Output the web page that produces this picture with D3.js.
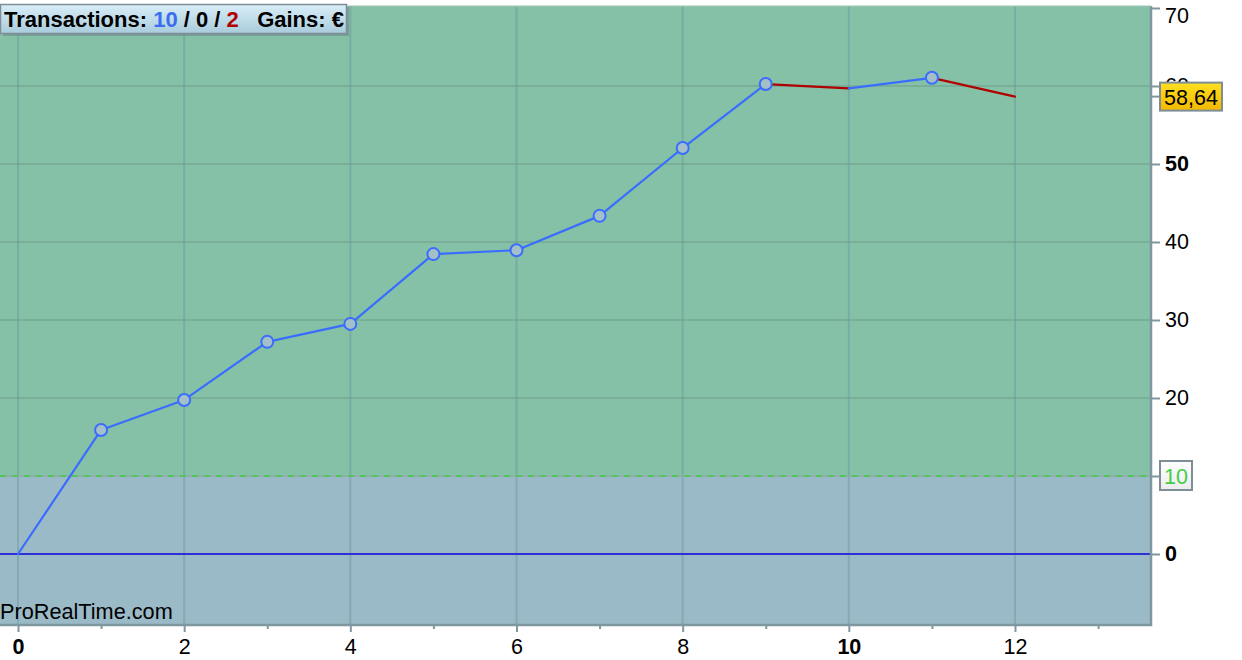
<!DOCTYPE html>
<html>
<head>
<meta charset="utf-8">
<script src="https://cdn.jsdelivr.net/npm/d3@7"></script>
<style>
  html, body { margin: 0; padding: 0; background: #ffffff; }
  svg { display: block; font-family: "Liberation Sans", Arial, Helvetica, sans-serif; }
</style>
</head>
<body>
<svg id="chart" width="1242" height="660"></svg>
<script>
// ---- data ----
const trades = [0, 1, 2, 3, 4, 5, 6, 7, 8, 9, 10, 11, 12];
const equity = [0, 15.9, 19.75, 27.2, 29.5, 38.45, 38.95, 43.35, 52.05, 60.25, 59.7, 61.05, 58.64];
const winning = [null, true, true, true, true, true, true, true, true, true, false, true, false];
const yTicks = [0, 10, 20, 30, 40, 50, 60, 70];
const yBold = [0, 50];
const xTicks = [0, 2, 4, 6, 8, 10, 12];
const xBold = [0, 10];
const xMinor = [1, 3, 5, 7, 9, 11, 13];
const threshold = 10;
const lastValueLabel = "58,64";
const legendParts = [
  {t: "Transactions: ", c: "#000000"},
  {t: "10", c: "#3a6df0"},
  {t: " / 0 / ", c: "#000000"},
  {t: "2", c: "#b00000"},
  {t: "   Gains: €", c: "#000000"}
];

// ---- layout ----
const svg = d3.select("#chart");
const plot = {left: 0, right: 1151, top: 6, bottom: 625};
const x = d3.scaleLinear().domain([0, 12]).range([18, 1015]);
const y = d3.scaleLinear().domain([0, 70]).range([554, 8]);
const FS = 21.5;

// background regions
svg.append("rect")
  .attr("x", plot.left).attr("y", plot.top)
  .attr("width", plot.right - plot.left).attr("height", y(threshold) - plot.top)
  .attr("fill", "#85c1a6");
svg.append("rect")
  .attr("x", plot.left).attr("y", y(threshold))
  .attr("width", plot.right - plot.left).attr("height", plot.bottom - y(threshold))
  .attr("fill", "#9bbac7");

// grid
const grid = svg.append("g");
grid.selectAll("line.h").data(yTicks.filter(v => v !== 0 && v !== threshold && v < 70)).join("line")
  .attr("x1", plot.left).attr("x2", plot.right)
  .attr("y1", d => y(d)).attr("y2", d => y(d))
  .attr("stroke", "#6e9e8a").attr("stroke-opacity", 0.5).attr("stroke-width", 2);
grid.selectAll("line.v").data(xTicks).join("line")
  .attr("x1", d => x(d)).attr("x2", d => x(d))
  .attr("y1", plot.top).attr("y2", plot.bottom)
  .attr("stroke", "#6e9aa0").attr("stroke-opacity", 0.5).attr("stroke-width", 2);

// threshold dashed line
svg.append("line")
  .attr("x1", plot.left).attr("x2", plot.right)
  .attr("y1", y(threshold)).attr("y2", y(threshold))
  .attr("stroke", "#8fa8a8").attr("stroke-width", 1.5);
svg.append("line")
  .attr("x1", plot.left).attr("x2", plot.right)
  .attr("y1", y(threshold)).attr("y2", y(threshold))
  .attr("stroke", "#44cc44").attr("stroke-width", 1.5)
  .attr("stroke-dasharray", "6,6");

// zero line
svg.append("line")
  .attr("x1", plot.left).attr("x2", plot.right)
  .attr("y1", y(0)).attr("y2", y(0))
  .attr("stroke", "#2f2fd8").attr("stroke-width", 2);

// plot border (right + bottom)
svg.append("path")
  .attr("d", `M${plot.right},${plot.top} V${plot.bottom} H${plot.left}`)
  .attr("fill", "none").attr("stroke", "#7f979f").attr("stroke-width", 2.5);
svg.append("line")
  .attr("x1", plot.left).attr("x2", plot.right)
  .attr("y1", plot.top).attr("y2", plot.top)
  .attr("stroke", "#9cc8b4").attr("stroke-width", 1);

// equity segments
const pts = trades.map((t, i) => ({t, v: equity[i], w: winning[i]}));
const segs = svg.append("g");
for (let i = 1; i < pts.length; i++) {
  segs.append("line")
    .attr("x1", x(pts[i-1].t)).attr("y1", y(pts[i-1].v))
    .attr("x2", x(pts[i].t)).attr("y2", y(pts[i].v))
    .attr("stroke", pts[i].w ? "#3a6dff" : "#b00000")
    .attr("stroke-width", 2.2)
    .attr("stroke-linecap", "round");
}
// markers on winning trades
svg.append("g").selectAll("circle").data(pts.filter(p => p.w === true)).join("circle")
  .attr("cx", d => x(d.t)).attr("cy", d => y(d.v)).attr("r", 6)
  .attr("fill", "#a3bfc8").attr("stroke", "#3a6dff").attr("stroke-width", 2);

// y axis (right)
const yAxis = d3.axisRight(y).tickValues(yTicks).tickSize(9).tickPadding(5)
  .tickFormat(d => d === threshold ? "" : d);
const yg = svg.append("g").attr("transform", `translate(${plot.right},0)`).call(yAxis);
yg.select(".domain").remove();
yg.selectAll(".tick line").attr("stroke", "#7f979f").attr("stroke-width", 2);
yg.selectAll(".tick text")
  .attr("font-size", FS).attr("fill", "#000")
  .attr("font-weight", d => yBold.includes(d) ? "bold" : "normal");
// top label kept inside the view
yg.selectAll(".tick").filter(d => d === 70).select("text").attr("dy", "0.66em");

// x axis (bottom)
const xAxis = d3.axisBottom(x).tickValues(xTicks).tickSize(7).tickPadding(7).tickFormat(d => d);
const xg = svg.append("g").attr("transform", `translate(0,${plot.bottom})`).call(xAxis);
xg.select(".domain").remove();
xg.selectAll(".tick line").attr("stroke", "#7f979f").attr("stroke-width", 2);
xg.selectAll(".tick text")
  .attr("font-size", FS).attr("fill", "#000")
  .attr("font-weight", d => xBold.includes(d) ? "bold" : "normal");
const xm = d3.axisBottom(x).tickValues(xMinor).tickSize(4).tickFormat("");
const xmg = svg.append("g").attr("transform", `translate(0,${plot.bottom})`).call(xm);
xmg.select(".domain").remove();
xmg.selectAll(".tick line").attr("stroke", "#7f979f").attr("stroke-width", 2);

// value labels on right
const defs = svg.append("defs");
const yellow = defs.append("linearGradient").attr("id", "yel").attr("x1", 0).attr("x2", 0).attr("y1", 0).attr("y2", 1);
yellow.append("stop").attr("offset", "0%").attr("stop-color", "#ffe020");
yellow.append("stop").attr("offset", "100%").attr("stop-color", "#f2b800");
const white = defs.append("linearGradient").attr("id", "wht").attr("x1", 0).attr("x2", 0).attr("y1", 0).attr("y2", 1);
white.append("stop").attr("offset", "0%").attr("stop-color", "#ffffff");
white.append("stop").attr("offset", "100%").attr("stop-color", "#ececec");
const legG = defs.append("linearGradient").attr("id", "leg").attr("x1", 0).attr("x2", 0).attr("y1", 0).attr("y2", 1);
legG.append("stop").attr("offset", "0%").attr("stop-color", "#d8eef8");
legG.append("stop").attr("offset", "100%").attr("stop-color", "#a9cbdb");

const lastV = equity[equity.length - 1];
const ly = y(lastV);
svg.append("line").attr("x1", plot.right).attr("x2", 1160).attr("y1", ly).attr("y2", ly)
  .attr("stroke", "#7f979f").attr("stroke-width", 2);
svg.append("rect").attr("x", 1160).attr("y", ly - 14).attr("width", 62).attr("height", 28)
  .attr("fill", "url(#yel)").attr("stroke", "#7f8e96").attr("stroke-width", 2);
svg.append("text").attr("x", 1191).attr("y", ly + 8).attr("text-anchor", "middle")
  .attr("font-size", FS).attr("fill", "#000").text(lastValueLabel);

const ty = y(threshold);
svg.append("rect").attr("x", 1160).attr("y", ty - 15).attr("width", 32).attr("height", 29)
  .attr("fill", "url(#wht)").attr("stroke", "#7f8e96").attr("stroke-width", 2);
svg.append("text").attr("x", 1176).attr("y", ty + 8).attr("text-anchor", "middle")
  .attr("font-size", FS).attr("fill", "#44cc44").text(threshold);

// legend box
svg.append("rect").attr("x", 3).attr("y", 7).attr("width", 346).attr("height", 29)
  .attr("fill", "#6f8790").attr("opacity", 0.6);
svg.append("rect").attr("x", 0.5).attr("y", 4.5).attr("width", 346).attr("height", 29)
  .attr("fill", "url(#leg)").attr("stroke", "#7f8e96").attr("stroke-width", 1.5);
const lt = svg.append("text").attr("x", 4).attr("y", 27).attr("font-size", 22).attr("font-weight", "bold")
  .attr("xml:space", "preserve").style("white-space", "pre");
lt.selectAll("tspan").data(legendParts).join("tspan").attr("fill", d => d.c).text(d => d.t);

// watermark
svg.append("text").attr("x", 0).attr("y", 619).attr("font-size", 21.7).attr("fill", "#000").text("ProRealTime.com");
</script>
</body>
</html>
